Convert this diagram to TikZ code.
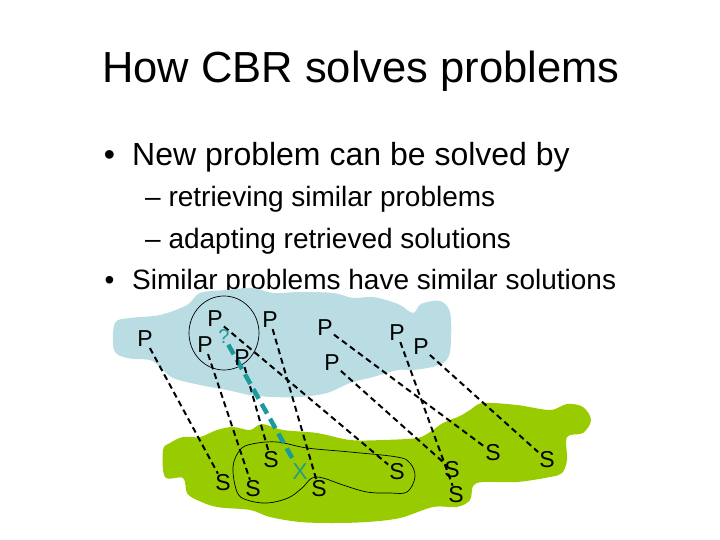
\documentclass[tikz,border=0pt]{standalone}
\usepackage{fontspec}
\setmainfont{Liberation Sans}
\definecolor{cloudblue}{RGB}{185,221,227}
\definecolor{leafgreen}{RGB}{153,204,0}
\definecolor{tealdash}{RGB}{26,154,154}
\definecolor{xteal}{RGB}{40,155,130}
\pgfdeclarelayer{bg}
\pgfdeclarelayer{mid}
\pgfsetlayers{bg,mid,main}
\begin{document}
\begin{tikzpicture}[x=1pt,y=-1pt,
  lbl/.style={inner sep=1pt, font=\fontsize{23}{23}\selectfont},
  txt/.style={anchor=base west, inner sep=0pt},
  bul/.style={anchor=base, inner sep=0pt},
  link/.style={dashed, line width=2pt, dash pattern=on 6pt off 4pt},
  guess/.style={line width=4.5pt, tealdash, dash pattern=on 11pt off 6pt}]
\useasboundingbox (0,0) rectangle (720,540);
\begin{pgfonlayer}{bg}
% texts
\node[txt, font=\fontsize{43.5}{50}\selectfont] (title) at (102,83) {How CBR solves problems};
\node[bul, font=\fontsize{32}{36}\selectfont] (b1) at (109.5,166) {•};
\node[txt, font=\fontsize{32}{36}\selectfont] (l1) at (132,166) {New problem can be solved by};
\node[txt, font=\fontsize{28}{32}\selectfont] (l2) at (145,207) {– retrieving similar problems};
\node[txt, font=\fontsize{28}{32}\selectfont] (l3) at (145,248) {– adapting retrieved solutions};
\node[bul, font=\fontsize{28}{32}\selectfont] (b2) at (109.5,289) {•};
\node[txt, font=\fontsize{28}{32}\selectfont] (l4) at (132,289) {Similar problems have similar solutions};
% problem cloud
\fill[cloudblue] plot[smooth cycle, tension=0.55] coordinates {
 (115,323) (130,318) (160,315) (187,305) (200,293) (227,290) (253,288) (273,293)
 (300,292) (333,293) (353,298) (373,297) (398,304) (413,313) (421,304) (440,301)
 (450,312) (451,340) (448,358) (436,366) (413,370) (398,370) (373,377) (350,383)
 (327,393) (300,397) (273,397) (250,395) (227,390) (200,385) (173,378) (160,367)
 (150,360) (127,358) (114,350)};
% solution region
\fill[leafgreen] plot[smooth cycle, tension=0.55] coordinates {
 (170,443) (183,437) (200,437) (217,430) (233,427) (250,430) (262,424) (283,430)
 (317,433) (350,440) (383,440) (417,438) (430,432) (443,423) (460,416) (470,410)
 (483,403) (517,405) (550,410) (567,404) (583,407) (591,420) (583,433) (567,437)
 (567,460) (562,473) (550,477) (517,482) (483,482) (473,486) (470,500) (457,507)
 (433,507) (400,518) (367,522) (333,523) (300,522) (270,517) (250,510) (217,507)
 (197,500) (187,493) (183,478) (165,477) (163,450)};
\end{pgfonlayer}
% problem labels
\node[lbl] (p1) at (145,339) {P};
\node[lbl] (p2) at (215,319) {P};
\node[lbl] (p3) at (205,345) {P};
\node[lbl] (p4) at (242,358) {P};
\node[lbl] (p5) at (270,320) {P};
\node[lbl] (p6) at (325,328) {P};
\node[lbl] (p7) at (332,363) {P};
\node[lbl] (p8) at (397,333) {P};
\node[lbl] (p9) at (421,347) {P};
\node[inner sep=0.5pt, text=tealdash, font=\fontsize{20}{20}\selectfont] (q) at (224,337) {?};
% solution labels
\node[lbl] (s1) at (223,483) {S};
\node[lbl] (s2) at (253,489) {S};
\node[lbl] (s3) at (271,460) {S};
\node[lbl] (s4) at (319,489) {S};
\node[lbl] (s5) at (397,472) {S};
\node[lbl] (s6) at (452,470) {S};
\node[lbl] (s7) at (456,495) {S};
\node[lbl] (s8) at (493,453) {S};
\node[lbl] (s9) at (547,460) {S};
\node[inner sep=1pt, text=xteal, font=\fontsize{23}{23}\selectfont] (x) at (300,472) {X};
\begin{pgfonlayer}{mid}
% circle around the new problem and outline of similar solutions
\draw[line width=0.7pt] (224,333) ellipse [x radius=35, y radius=37];
\draw[line width=0.7pt] plot[smooth cycle, tension=0.6] coordinates {
 (240,450) (252,444) (277,442) (307,448) (350,452) (397,457) (410,463) (415,477)
 (407,492) (390,493) (367,492) (343,485) (323,478) (312,478) (302,488) (288,498)
 (267,503) (247,500) (237,492) (233,467)};
% links
\draw[link] (p1) -- (s1);
\draw[link] (p3) -- (s2);
\draw[link] (p4) -- (s3);
\draw[link] (p2) -- (s5);
\draw[link] (p5) -- (s4);
\draw[link] (p6) -- (s8);
\draw[link] (p7) -- (s6);
\draw[link] (p8) -- (s7);
\draw[link] (p9) -- (s9);
\draw[guess] (q) -- (x);
\end{pgfonlayer}
\end{tikzpicture}
\end{document}
